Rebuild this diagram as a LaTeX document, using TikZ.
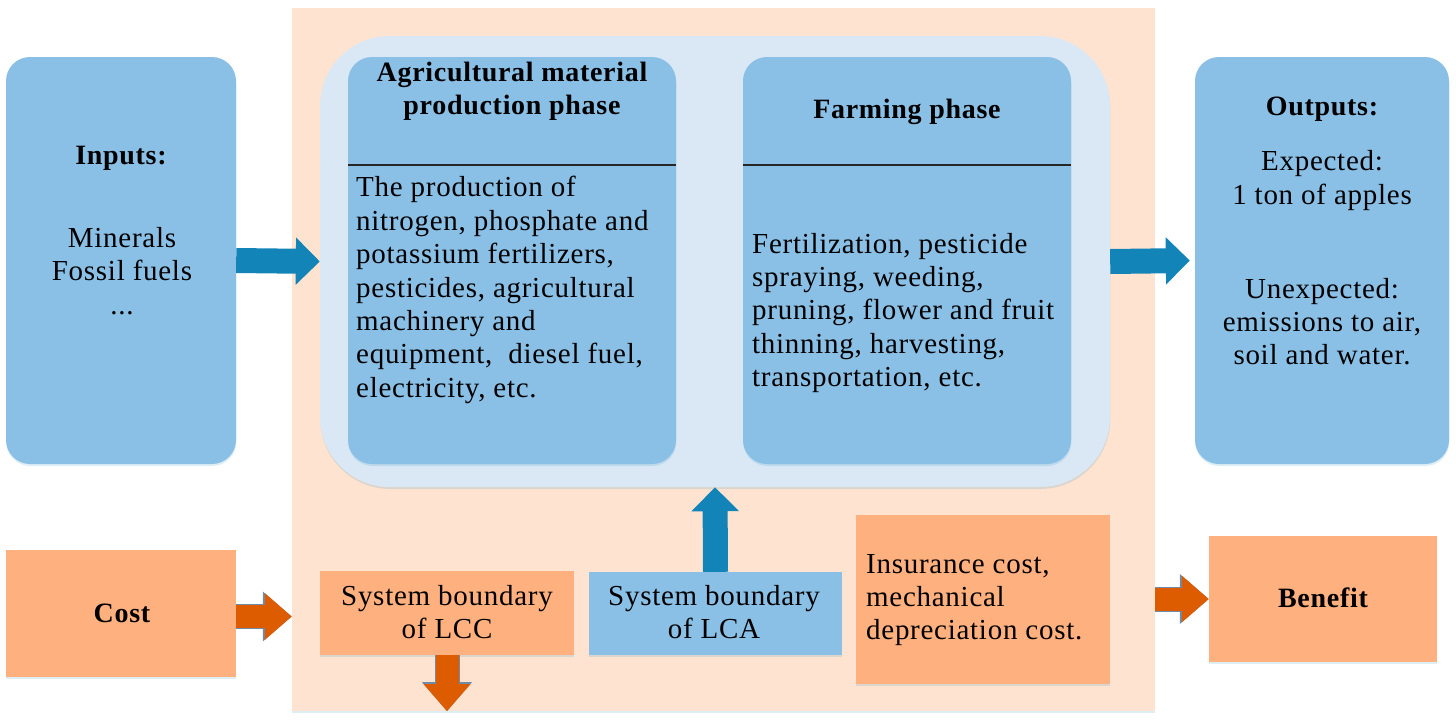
\documentclass[tikz,border=0pt]{standalone}
\usepackage{fontspec}
\setmainfont[LetterSpace=2.5]{Liberation Serif}
\usetikzlibrary{arrows.meta,shadows,calc}
\definecolor{boxblue}{HTML}{8BC0E6}
\definecolor{paleblue}{HTML}{DAE8F5}
\definecolor{peach}{HTML}{FEE3D1}
\definecolor{boxorange}{HTML}{FFB07F}
\definecolor{arrowblue}{HTML}{1384B8}
\definecolor{arroworange}{HTML}{DE5C00}
\definecolor{arrowedge}{HTML}{6E8CA8}
\tikzset{
  softshadow/.style={drop shadow={shadow xshift=0.3pt,shadow yshift=-2pt,opacity=.14,fill=arrowblue}},
  plainbox/.style={rectangle,inner sep=0pt,softshadow},
  bluepanel/.style={plainbox,fill=boxblue,rounded corners=24pt},
  orangebox/.style={plainbox,fill=boxorange},
  blueflat/.style={plainbox,fill=boxblue},
  label/.style={inner sep=0pt,align=center,font=\fontsize{29}{33.4}\selectfont},
  leftlabel/.style={label,align=left,anchor=west},
  headlabel/.style={label,font=\fontsize{28}{33.4}\selectfont\bfseries},
  bluearrow/.style={draw=arrowblue,line width=25pt,-{Triangle[length=24pt,width=46pt,fill=arrowblue]}},
  orangearrow/.style={
    preaction={draw=arrowedge,line width=25pt,-{Triangle[length=29pt,width=48pt,fill=arrowedge]}},
    draw=arroworange,line width=23pt,-{Triangle[length=27pt,width=45pt,fill=arroworange]}},
}
\begin{document}
\begin{tikzpicture}[x=1pt,y=-1pt]
\useasboundingbox (0,0) rectangle (1456,724);
% containers
\node[plainbox,fill=peach,minimum width=863pt,minimum height=703pt] (boundary) at (723.5,359.5) {};
\node[plainbox,fill=paleblue,rounded corners=70pt,minimum width=790pt,minimum height=451pt] (lca) at (715,261.5) {};
% panels
\node[bluepanel,minimum width=230pt,minimum height=407pt] (inputs) at (121,260.5) {};
\node[bluepanel,minimum width=328pt,minimum height=407pt] (material) at (512,260.5) {};
\node[bluepanel,minimum width=328pt,minimum height=407pt] (farming) at (907,260.5) {};
\node[bluepanel,minimum width=254pt,minimum height=407pt] (outputs) at (1322,260.5) {};
% lower boxes
\node[orangebox,minimum width=230pt,minimum height=127pt] (cost) at (121,613.5) {};
\node[orangebox,minimum width=254pt,minimum height=84pt] (lccbox) at (447,613) {};
\node[blueflat,minimum width=253pt,minimum height=83pt] (lcabox) at (715.5,613.5) {};
\node[orangebox,minimum width=254pt,minimum height=169pt] (insurance) at (983,599.5) {};
\node[orangebox,minimum width=228pt,minimum height=126pt] (benefit) at (1323,599) {};
% dividers
\draw[line width=1.2pt,black!85] (material.west |- 0,165) -- (material.east |- 0,165);
\draw[line width=1.2pt,black!85] (farming.west |- 0,165) -- (farming.east |- 0,165);
% connectors
\draw[bluearrow] (inputs.east) -- (lca.west);
\draw[bluearrow] (lca.east) -- ($(outputs.west)+(-5,0)$);
\draw[bluearrow] (lcabox.north) -- (lca.south);
\draw[orangearrow] ($(cost.east)+(0,3)$) -- ($(cost.east -| boundary.west)+(0,3)$);
\draw[orangearrow] (benefit.west -| boundary.east) -- (benefit.west);
\draw[orangearrow] (lccbox.south) -- (lccbox.south |- boundary.south);
% texts
\node[headlabel] (tinputs) at (121,158.5) {Inputs:};
\node[label] (tinputs2) at (122,271) {Minerals\\Fossil fuels\\...};
\node[headlabel] (tmat) at (512,91.5) {Agricultural material\\production phase};
\node[leftlabel] (tmat2) at (356,290) {The production of\\nitrogen, phosphate and\\potassium fertilizers,\\pesticides, agricultural\\machinery and\\equipment,~ diesel fuel,\\electricity, etc.};
\node[headlabel] (tfarm) at (907,111.5) {Farming phase};
\node[leftlabel] (tfarm2) at (752,313) {Fertilization, pesticide\\spraying, weeding,\\pruning, flower and fruit\\thinning, harvesting,\\transportation, etc.};
\node[headlabel] (toutputs) at (1322,109.5) {Outputs:};
\node[label] (toutputs2) at (1322,258) {Expected:\\1 ton of apples\\[60.6pt]Unexpected:\\emissions to air,\\soil and water.};
\node[headlabel] (tcost) at (122,613) {Cost};
\node[headlabel] (tbenefit) at (1323,598) {Benefit};
\node[label] (tlcc) at (447,612) {System boundary\\of LCC};
\node[label] (tlca) at (714,612) {System boundary\\of LCA};
\node[leftlabel] (tins) at (866,600) {Insurance cost,\\mechanical\\depreciation cost.};
\end{tikzpicture}
\end{document}
